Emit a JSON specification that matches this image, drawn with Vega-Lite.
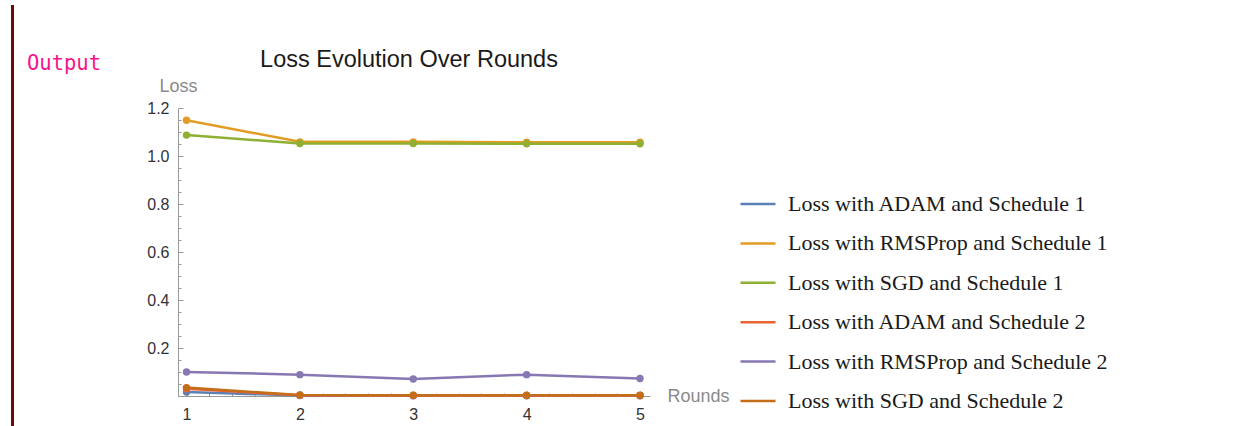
{
  "$schema": "https://vega.github.io/schema/vega-lite/v6.json",
  "padding": {"left": 11, "top": 5, "right": 0, "bottom": 0},
  "background": "white",
  "spacing": 13,
  "resolve": {"legend": {"color": "independent"}},
  "config": {
    "view": {"stroke": null},
    "title": {"fontWeight": "normal"}
  },
  "datasets": {
    "loss": [
      {"series": "Loss with ADAM and Schedule 1", "round": 1, "loss": 0.017},
      {"series": "Loss with ADAM and Schedule 1", "round": 2, "loss": 0.002},
      {"series": "Loss with ADAM and Schedule 1", "round": 3, "loss": 0.001},
      {"series": "Loss with ADAM and Schedule 1", "round": 4, "loss": 0.001},
      {"series": "Loss with ADAM and Schedule 1", "round": 5, "loss": 0.001},
      {"series": "Loss with RMSProp and Schedule 1", "round": 1, "loss": 1.149},
      {"series": "Loss with RMSProp and Schedule 1", "round": 2, "loss": 1.059},
      {"series": "Loss with RMSProp and Schedule 1", "round": 3, "loss": 1.059},
      {"series": "Loss with RMSProp and Schedule 1", "round": 4, "loss": 1.057},
      {"series": "Loss with RMSProp and Schedule 1", "round": 5, "loss": 1.057},
      {"series": "Loss with SGD and Schedule 1", "round": 1, "loss": 1.087},
      {"series": "Loss with SGD and Schedule 1", "round": 2, "loss": 1.052},
      {"series": "Loss with SGD and Schedule 1", "round": 3, "loss": 1.052},
      {"series": "Loss with SGD and Schedule 1", "round": 4, "loss": 1.051},
      {"series": "Loss with SGD and Schedule 1", "round": 5, "loss": 1.051},
      {"series": "Loss with ADAM and Schedule 2", "round": 1, "loss": 0.03},
      {"series": "Loss with ADAM and Schedule 2", "round": 2, "loss": 0.003},
      {"series": "Loss with ADAM and Schedule 2", "round": 3, "loss": 0.002},
      {"series": "Loss with ADAM and Schedule 2", "round": 4, "loss": 0.002},
      {"series": "Loss with ADAM and Schedule 2", "round": 5, "loss": 0.002},
      {"series": "Loss with RMSProp and Schedule 2", "round": 1, "loss": 0.1},
      {"series": "Loss with RMSProp and Schedule 2", "round": 2, "loss": 0.089},
      {"series": "Loss with RMSProp and Schedule 2", "round": 3, "loss": 0.071},
      {"series": "Loss with RMSProp and Schedule 2", "round": 4, "loss": 0.089},
      {"series": "Loss with RMSProp and Schedule 2", "round": 5, "loss": 0.073},
      {"series": "Loss with SGD and Schedule 2", "round": 1, "loss": 0.035},
      {"series": "Loss with SGD and Schedule 2", "round": 2, "loss": 0.004},
      {"series": "Loss with SGD and Schedule 2", "round": 3, "loss": 0.003},
      {"series": "Loss with SGD and Schedule 2", "round": 4, "loss": 0.003},
      {"series": "Loss with SGD and Schedule 2", "round": 5, "loss": 0.003}
    ]
  },
  "hconcat": [
    {
      "width": 3,
      "height": 421,
      "view": {"fill": "#700808", "stroke": null},
      "data": {"values": []},
      "mark": "point"
    },
    {
      "spacing": 0,
      "resolve": {"legend": {"color": "independent"}},
      "vconcat": [
        {
          "width": 1,
          "height": 42,
          "data": {"values": []},
          "mark": "point"
        },
        {
          "spacing": 44,
          "resolve": {"legend": {"color": "independent"}},
          "hconcat": [
            {
              "width": 1,
              "height": 1,
              "title": {
                "text": "Output",
                "anchor": "start",
                "font": "DejaVu Sans Mono",
                "fontSize": 20.5,
                "fontWeight": "normal",
                "color": "#F5148C",
                "dy": -30
              },
              "data": {"values": []},
              "mark": "point"
            },
            {
              "width": 472,
              "height": 288,
              "title": {
                "text": "Loss Evolution Over Rounds",
                "anchor": "middle",
                "frame": "group",
                "font": "Liberation Sans",
                "fontSize": 23.5,
                "fontWeight": "normal",
                "color": "#1a1a1a",
                "offset": 6,
                "dx": -5
              },
              "data": {"name": "loss"},
              "encoding": {
                "x": {
                  "field": "round",
                  "type": "quantitative",
                  "scale": {"domain": [0.925, 5.088], "nice": false, "zero": false},
                  "axis": {
                    "title": "Rounds",
                    "titleAngle": 0,
                    "titleX": 489,
                    "titleY": 0,
                    "titleAlign": "left",
                    "titleBaseline": "middle",
                    "titleFont": "Liberation Sans",
                    "titleFontSize": 18,
                    "titleFontWeight": "normal",
                    "titleColor": "#8a8a8a",
                    "values": [1, 1.2, 1.4, 1.6, 1.8, 2, 2.2, 2.4, 2.6, 2.8, 3, 3.2, 3.4, 3.6, 3.8, 4, 4.2, 4.4, 4.6, 4.8, 5],
                    "labelExpr": "abs(datum.value - round(datum.value)) < 0.001 ? format(datum.value, 'd') : ''",
                    "labelFont": "Liberation Sans",
                    "labelFontSize": 16,
                    "labelColor": "#333333",
                    "labelPadding": 15,
                    "labelFlush": false,
                    "labelOverlap": false,
                    "tickSize": {"condition": {"test": "abs(datum.value - round(datum.value)) < 0.001", "value": -5}, "value": -3},
                    "tickColor": "#999999",
                    "tickWidth": 1,
                    "domainColor": "#999999",
                    "domainWidth": 1,
                    "grid": false
                  }
                },
                "y": {
                  "field": "loss",
                  "type": "quantitative",
                  "scale": {"domain": [0, 1.2], "nice": false},
                  "axis": {
                    "title": "Loss",
                    "titleAngle": 0,
                    "titleX": 0,
                    "titleY": -17,
                    "titleAlign": "center",
                    "titleBaseline": "alphabetic",
                    "titleFont": "Liberation Sans",
                    "titleFontSize": 18,
                    "titleFontWeight": "normal",
                    "titleColor": "#8a8a8a",
                    "values": [0, 0.05, 0.1, 0.15, 0.2, 0.25, 0.3, 0.35, 0.4, 0.45, 0.5, 0.55, 0.6, 0.65, 0.7, 0.75, 0.8, 0.85, 0.9, 0.95, 1, 1.05, 1.1, 1.15, 1.2],
                    "labelExpr": "abs(datum.value * 5 - round(datum.value * 5)) < 0.001 && datum.value > 0.01 ? format(datum.value, '.1f') : ''",
                    "labelFont": "Liberation Sans",
                    "labelFontSize": 16,
                    "labelColor": "#333333",
                    "labelPadding": 14,
                    "labelFlush": false,
                    "labelOverlap": false,
                    "tickSize": {"condition": {"test": "abs(datum.value * 5 - round(datum.value * 5)) < 0.001", "value": -5}, "value": -3},
                    "tickColor": "#999999",
                    "tickWidth": 1,
                    "domainColor": "#999999",
                    "domainWidth": 1,
                    "grid": false
                  }
                },
                "color": {
                  "field": "series",
                  "type": "nominal",
                  "scale": {
                    "domain": [
                      "Loss with ADAM and Schedule 1",
                      "Loss with RMSProp and Schedule 1",
                      "Loss with SGD and Schedule 1",
                      "Loss with ADAM and Schedule 2",
                      "Loss with RMSProp and Schedule 2",
                      "Loss with SGD and Schedule 2"
                    ],
                    "range": ["#5E81B5", "#E19C24", "#8FB032", "#EB6235", "#8778B3", "#C56E1A"]
                  }
                }
              },
              "layer": [
                {
                  "mark": {"type": "line", "strokeWidth": 2.5},
                  "encoding": {
                    "color": {
                      "field": "series",
                      "type": "nominal",
                      "legend": {
                        "title": null,
                        "orient": "none",
                        "legendX": 561,
                        "legendY": 77,
                        "padding": 0,
                        "symbolType": "stroke",
                        "symbolSize": 1225,
                        "symbolStrokeWidth": 2.5,
                        "labelFont": "Liberation Serif",
                        "labelFontSize": 22,
                        "labelColor": "#1a1a1a",
                        "labelOffset": 11,
                        "labelLimit": 0,
                        "rowPadding": 9.4
                      }
                    }
                  }
                },
                {
                  "mark": {"type": "point", "filled": true, "size": 55, "opacity": 1},
                  "encoding": {
                    "color": {"field": "series", "type": "nominal", "legend": null}
                  }
                }
              ]
            }
          ]
        }
      ]
    }
  ]
}
